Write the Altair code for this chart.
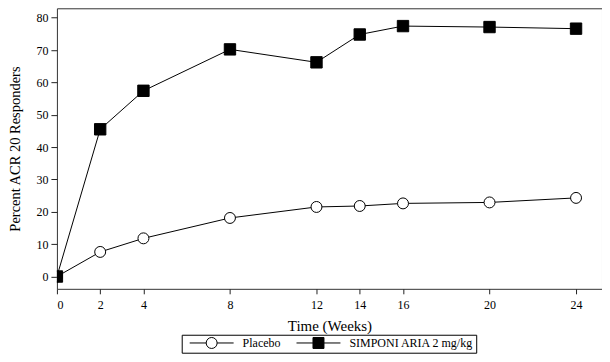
import altair as alt
import pandas as pd

weeks = [0, 2, 4, 8, 12, 14, 16, 20, 24]
placebo = [0, 7.6, 11.8, 18.1, 21.5, 21.8, 22.6, 22.9, 24.3]
simponi = [0, 45.5, 57.4, 70.2, 66.2, 74.8, 77.4, 77.1, 76.6]
series_names = ["Placebo", "SIMPONI ARIA 2 mg/kg"]
y_ticks = [0, 10, 20, 30, 40, 50, 60, 70, 80]

df = pd.DataFrame({
    "week": weeks + weeks,
    "pct": placebo + simponi,
    "group": [series_names[0]] * len(weeks) + [series_names[1]] * len(weeks),
})

FONT = "Liberation Serif"

x_enc = alt.X("week:Q",
              scale=alt.Scale(domain=[0, 25.2], nice=False, zero=False),
              axis=alt.Axis(values=weeks, title="Time (Weeks)", grid=False, domain=False,
                            tickSize=5, tickColor="#222", labelPadding=6, titlePadding=8,
                            labelFontSize=12, titleFontSize=15, labelFont=FONT, titleFont=FONT,
                            titleFontWeight="normal", labelColor="black", titleColor="black"))
y_enc = alt.Y("pct:Q",
              scale=alt.Scale(domain=[-3.8, 82.9], nice=False, zero=False),
              axis=alt.Axis(values=y_ticks, title="Percent ACR 20 Responders", grid=False,
                            domain=False, tickSize=6, tickColor="#222", labelPadding=3,
                            titlePadding=13, labelFontSize=12, titleFontSize=14.5,
                            labelFont=FONT, titleFont=FONT, titleFontWeight="normal",
                            labelColor="black", titleColor="black"))

base = alt.Chart(df)

lines = base.mark_line(color="black", strokeWidth=1, clip=True).encode(
    x=x_enc, y=y_enc, detail="group:N")

pts_placebo = base.transform_filter(alt.datum.group == series_names[0]).mark_point(
    shape="circle", filled=True, fill="white", stroke="black", strokeWidth=1,
    size=120, opacity=1, clip=True).encode(x=x_enc, y=y_enc)

pts_simponi = base.transform_filter(alt.datum.group == series_names[1]).mark_point(
    shape="square", filled=True, fill="black", stroke="black", strokeWidth=1,
    size=130, opacity=1, clip=True).encode(x=x_enc, y=y_enc)

circle_sym = "M-4,0H-1M1,0H4M1,0A1,1,0,1,1,-1,0A1,1,0,1,1,1,0Z"
square_sym = "M-4,0H-1M1,0H4M-1,-1H1V1H-1Z"

leg = alt.Legend(orient="none", legendX=125, legendY=327, direction="horizontal",
                 title=None, strokeColor="black", padding=2, symbolSize=121,
                 symbolStrokeColor="black", symbolStrokeWidth=1, symbolOffset=22,
                 labelOffset=25, columnPadding=10, labelFont=FONT, labelFontSize=12,
                 labelColor="black", symbolOpacity=1)

legend_layer = base.transform_filter("false").mark_point(
    strokeWidth=1, filled=False, opacity=1).encode(
    fill=alt.Fill("group:N", scale=alt.Scale(domain=series_names, range=["white", "black"]),
                  legend=leg),
    stroke=alt.Stroke("group:N", scale=alt.Scale(domain=series_names, range=["black", "black"]),
                      legend=leg),
    shape=alt.Shape("group:N", scale=alt.Scale(domain=series_names,
                                               range=[circle_sym, square_sym]),
                    legend=leg),
)

chart = alt.layer(lines, pts_placebo, pts_simponi, legend_layer).properties(
    width=546, height=281,
    autosize=alt.AutoSizeParams(type="none"),
    padding={"left": 49, "top": 0, "right": 0, "bottom": 65},
    background="white",
).configure_view(stroke="#333", strokeWidth=1, fill="white")

chart.save("out.html", embed_options={"renderer": "svg", "actions": False})
